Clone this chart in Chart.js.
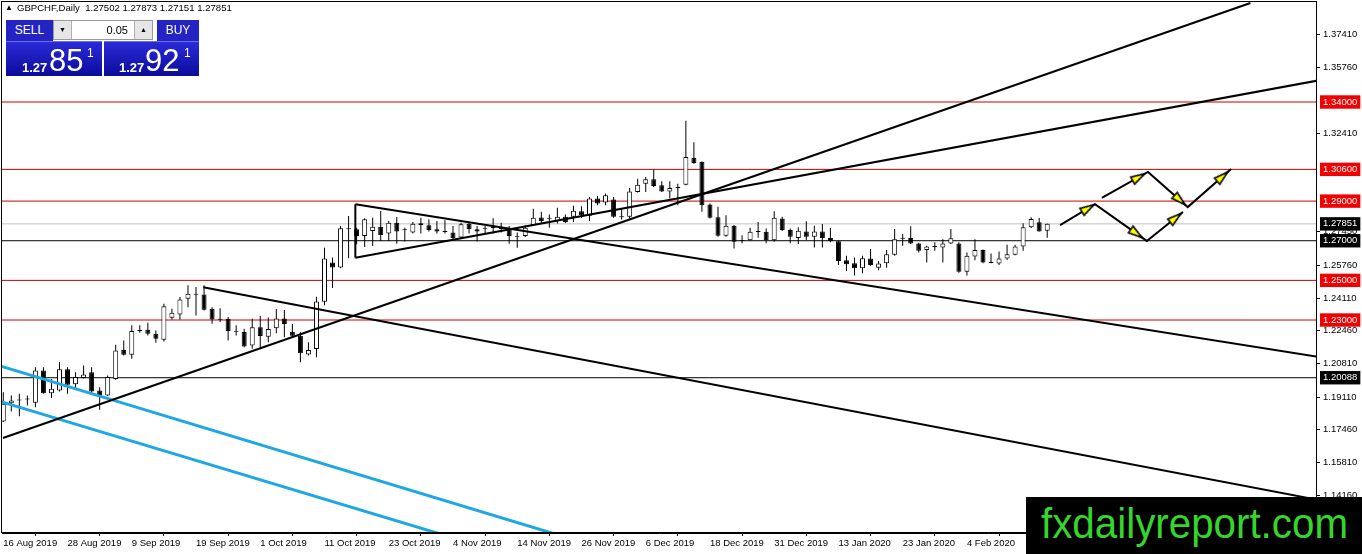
<!DOCTYPE html>
<html>
<head>
<meta charset="utf-8">
<script src="https://cdn.jsdelivr.net/npm/chart.js@4/dist/chart.umd.min.js"></script>
<style>
  html, body { margin: 0; padding: 0; background: #fff; }
  #wrap { position: relative; width: 1362px; height: 554px; overflow: hidden; font-family: "Liberation Sans", Arial, sans-serif; }
  #myChart { position: absolute; left: 0; top: 0; }
  #hdr { position: absolute; left: 5px; top: 2px; font-size: 9.6px; line-height: 12px; color: #000; white-space: nowrap; }
  #hdr .tri { font-size: 8px; vertical-align: 1px; margin-right: 4px; }
  .blue { position: absolute; color: #fff; background: linear-gradient(#2b2bd8, #0b0b9c); }
  .btn { font-size: 12px; text-align: center; line-height: 21px; height: 21px; background: #2424c4; }
  #spin { position: absolute; left: 53px; top: 20px; width: 98px; height: 18px; background: #fff; border: 1px solid #9a9a9a; font-size: 11px; }
  #spin .arr { position: absolute; top: 0; width: 17px; height: 18px; background: #e6e6e6; text-align: center; line-height: 18px; font-size: 7px; }
  .small { position: absolute; font-size: 13px; font-weight: bold; line-height: 13px; }
  .big { position: absolute; font-size: 31px; line-height: 30px; }
  .sup { position: absolute; font-size: 12px; line-height: 12px; }
  #wm { position: absolute; left: 1026px; top: 497px; width: 336px; height: 57px; background: #000; overflow: hidden; }
  #wm span { position: absolute; left: 15px; top: 3px; font-size: 42px; line-height: 48px; color: #35d62c; transform: scaleX(0.96); transform-origin: 0 0; white-space: nowrap; }
</style>
</head>
<body>
<div id="wrap">
  <canvas id="myChart" width="1362" height="554"></canvas>
  <div id="hdr"><span class="tri">&#9650;</span>GBPCHF,Daily&nbsp; 1.27502 1.27873 1.27151 1.27851</div>
  <div class="blue btn" style="left:6px;top:20px;width:47px;">SELL</div>
  <div id="spin">
    <div class="arr" style="left:0;border-right:1px solid #b0b0b0;">&#9660;</div>
    <div style="position:absolute;right:24px;top:0;line-height:18px;">0.05</div>
    <div class="arr" style="right:0;border-left:1px solid #b0b0b0;">&#9650;</div>
  </div>
  <div class="blue btn" style="left:157px;top:20px;width:42px;">BUY</div>
  <div class="blue" style="left:6px;top:41px;width:96px;height:34px;border-top:1px solid #6d6de6;">
    <span class="small" style="left:16px;top:19px;">1.27</span>
    <span class="big" style="left:43px;top:4px;">85</span>
    <span class="sup" style="left:81px;top:5px;">1</span>
  </div>
  <div class="blue" style="left:104px;top:41px;width:95px;height:34px;border-top:1px solid #6d6de6;">
    <span class="small" style="left:15px;top:19px;">1.27</span>
    <span class="big" style="left:41px;top:4px;">92</span>
    <span class="sup" style="left:80px;top:5px;">1</span>
  </div>
  <div id="wm"><span>fxdailyreport.com</span></div>
</div>
<script>
// GBPCHF daily candles, 16 Aug 2019 .. 18 Feb 2020 (bar index = position)
const openVals = [
  1.1788, 1.1880, 1.1894, 1.1899, 1.1882, 1.2045, 1.1931, 1.1944, 1.2051, 1.1976,
  1.2008, 1.2037, 1.1944, 1.1919, 1.2003, 1.2150, 1.2125, 1.2247, 1.2251, 1.2231,
  1.2200, 1.2311, 1.2328, 1.2407, 1.2431, 1.2429, 1.2357, 1.2305, 1.2306, 1.2244,
  1.2239, 1.2172, 1.2264, 1.2216, 1.2258, 1.2308, 1.2241, 1.2221, 1.2126, 1.2154,
  1.2392, 1.2590, 1.2565, 1.2761, 1.2758, 1.2724, 1.2749, 1.2771, 1.2736, 1.2791,
  1.2756, 1.2741, 1.2788, 1.2778, 1.2758, 1.2746, 1.2741, 1.2716, 1.2786, 1.2758,
  1.2764, 1.2768, 1.2763, 1.2763, 1.2721, 1.2724, 1.2779, 1.2817, 1.2814, 1.2800,
  1.2821, 1.2821, 1.2849, 1.2826, 1.2913, 1.2893, 1.2908, 1.2822, 1.2821, 1.2946,
  1.2988, 1.3010, 1.2980, 1.2949, 1.2970, 1.2983, 1.3117, 1.3097, 1.2883, 1.2819,
  1.2725, 1.2775, 1.2700, 1.2703, 1.2747, 1.2745, 1.2703, 1.2812, 1.2754, 1.2714,
  1.2747, 1.2720, 1.2747, 1.2714, 1.2697, 1.2602, 1.2586, 1.2561, 1.2610, 1.2564,
  1.2586, 1.2629, 1.2714, 1.2714, 1.2686, 1.2653, 1.2673, 1.2666, 1.2686, 1.2686,
  1.2544, 1.2620, 1.2653, 1.2592, 1.2585, 1.2610, 1.2629, 1.2671, 1.2768, 1.2793,
  1.27502
];
const highVals = [
  1.1936, 1.1919, 1.1928, 1.1919, 1.2062, 1.2062, 1.2003, 1.2088, 1.2062, 1.2037,
  1.2071, 1.2062, 1.1961, 1.2020, 1.2175, 1.2197, 1.2273, 1.2273, 1.2286, 1.2247,
  1.2382, 1.2357, 1.2416, 1.2475, 1.2466, 1.2475, 1.2365, 1.2360, 1.2315, 1.2273,
  1.2256, 1.2306, 1.2320, 1.2313, 1.2355, 1.2350, 1.2280, 1.2238, 1.2188, 1.2417,
  1.2665, 1.2615, 1.2774, 1.2825, 1.2766, 1.2813, 1.2816, 1.2850, 1.2799, 1.2820,
  1.2766, 1.2794, 1.2816, 1.2808, 1.2799, 1.2803, 1.2774, 1.2791, 1.2794, 1.2774,
  1.2774, 1.2813, 1.2791, 1.2774, 1.2741, 1.2778, 1.2862, 1.2846, 1.2832, 1.2866,
  1.2832, 1.2876, 1.2874, 1.2921, 1.2926, 1.2938, 1.2921, 1.2862, 1.2966, 1.3013,
  1.3021, 1.3060, 1.3000, 1.3000, 1.2988, 1.3306, 1.3197, 1.3100, 1.2888, 1.2871,
  1.2829, 1.2779, 1.2728, 1.2765, 1.2795, 1.2762, 1.2849, 1.2821, 1.2762, 1.2768,
  1.2798, 1.2776, 1.2785, 1.2764, 1.2700, 1.2624, 1.2615, 1.2624, 1.2658, 1.2598,
  1.2653, 1.2759, 1.2734, 1.2773, 1.2690, 1.2675, 1.2692, 1.2708, 1.2759, 1.2692,
  1.2641, 1.2708, 1.2656, 1.2636, 1.2646, 1.2680, 1.2680, 1.2788, 1.2819, 1.2815,
  1.27873
];
const lowVals = [
  1.1785, 1.1838, 1.1815, 1.1869, 1.1860, 1.1928, 1.1906, 1.1939, 1.1928, 1.1948,
  1.2005, 1.1928, 1.1847, 1.1916, 1.1998, 1.2121, 1.2104, 1.2236, 1.2222, 1.2185,
  1.2192, 1.2303, 1.2303, 1.2365, 1.2323, 1.2348, 1.2281, 1.2290, 1.2197, 1.2222,
  1.2163, 1.2155, 1.2152, 1.2188, 1.2233, 1.2213, 1.2210, 1.2087, 1.2121, 1.2112,
  1.2375, 1.2461, 1.2561, 1.2612, 1.2682, 1.2669, 1.2674, 1.2699, 1.2699, 1.2685,
  1.2696, 1.2737, 1.2736, 1.2746, 1.2736, 1.2736, 1.2702, 1.2711, 1.2736, 1.2696,
  1.2736, 1.2736, 1.2741, 1.2685, 1.2665, 1.2719, 1.2775, 1.2787, 1.2765, 1.2787,
  1.2790, 1.2795, 1.2816, 1.2799, 1.2879, 1.2879, 1.2816, 1.2807, 1.2812, 1.2943,
  1.2946, 1.2971, 1.2946, 1.2913, 1.2879, 1.2980, 1.3088, 1.2846, 1.2812, 1.2720,
  1.2720, 1.2661, 1.2687, 1.2700, 1.2715, 1.2687, 1.2695, 1.2749, 1.2687, 1.2683,
  1.2703, 1.2666, 1.2666, 1.2692, 1.2578, 1.2547, 1.2525, 1.2536, 1.2573, 1.2551,
  1.2564, 1.2624, 1.2675, 1.2683, 1.2641, 1.2590, 1.2649, 1.2590, 1.2683, 1.2539,
  1.2525, 1.2602, 1.2586, 1.2586, 1.2578, 1.2603, 1.2627, 1.2649, 1.2764, 1.2746,
  1.27151
];
const closeVals = [
  1.1877, 1.1894, 1.1895, 1.1900, 1.2045, 1.1931, 1.1953, 1.2051, 1.1973, 1.2012,
  1.2025, 1.1939, 1.1916, 1.2012, 1.2146, 1.2125, 1.2244, 1.2244, 1.2231, 1.2205,
  1.2370, 1.2337, 1.2404, 1.2433, 1.2428, 1.2352, 1.2303, 1.2301, 1.2244, 1.2241,
  1.2167, 1.2264, 1.2219, 1.2255, 1.2308, 1.2280, 1.2221, 1.2132, 1.2149, 1.2394,
  1.2610, 1.2565, 1.2763, 1.2758, 1.2724, 1.2808, 1.2771, 1.2729, 1.2791, 1.2746,
  1.2753, 1.2786, 1.2778, 1.2754, 1.2746, 1.2744, 1.2712, 1.2783, 1.2758, 1.2746,
  1.2761, 1.2764, 1.2759, 1.2724, 1.2717, 1.2766, 1.2816, 1.2799, 1.2811, 1.2821,
  1.2795, 1.2851, 1.2829, 1.2913, 1.2888, 1.2929, 1.2821, 1.2819, 1.2949, 1.2983,
  1.3010, 1.2976, 1.2949, 1.2966, 1.2966, 1.3122, 1.3092, 1.2879, 1.2816, 1.2725,
  1.2775, 1.2695, 1.2697, 1.2745, 1.2744, 1.2703, 1.2816, 1.2754, 1.2720, 1.2751,
  1.2720, 1.2747, 1.2714, 1.2697, 1.2598, 1.2581, 1.2561, 1.2612, 1.2578, 1.2585,
  1.2632, 1.2708, 1.2710, 1.2686, 1.2649, 1.2671, 1.2669, 1.2686, 1.2712, 1.2544,
  1.2624, 1.2653, 1.2590, 1.2588, 1.2610, 1.2632, 1.2671, 1.2768, 1.2810, 1.2747,
  1.27851
];

// time axis labels and the bar they sit on
const tickBars = [0, 8, 16, 24, 32, 40, 48, 56, 64, 72, 80, 88, 96, 104, 112, 120];
const tickLabels = [
  "16 Aug 2019", "28 Aug 2019", "9 Sep 2019", "19 Sep 2019", "1 Oct 2019", "11 Oct 2019",
  "23 Oct 2019", "4 Nov 2019", "14 Nov 2019", "26 Nov 2019", "6 Dec 2019", "18 Dec 2019",
  "31 Dec 2019", "13 Jan 2020", "23 Jan 2020", "4 Feb 2020"
];

// price axis
const priceTicks = [1.37410, 1.35760, 1.32410, 1.27450, 1.25760, 1.24110, 1.22460, 1.20810, 1.19110, 1.17460, 1.15810, 1.14160];
const redLevels = [1.34000, 1.30600, 1.29000, 1.25000, 1.23000];
const blackLevels = [1.20088, 1.27000];
const bidLevels = [1.27851];
const xMin = -0.16, xMax = 163.47;
const yMin = 1.12254, yMax = 1.39096;

// drawn objects: [bar, price] anchor points
const trendUp1 = [[-0.04, 1.17047], [155.3, 1.38995]];
const trendUp2 = [[43.84, 1.26144], [163.6, 1.35075]];
const trendDown1 = [[43.84, 1.28839], [163.6, 1.21149]];
const trendDown2 = [[24.9, 1.24651], [163.6, 1.13930]];
const triangleSide = [[43.84, 1.26144], [43.84, 1.28839]];
const channelTop = [[-0.3, 1.20670], [69.3, 1.12130]];
const channelLow = [[-0.3, 1.18880], [55.0, 1.12133]];
const arrowPathA = [[131.6, 1.2779], [135.95, 1.2885], [142.4, 1.2699], [146.9, 1.2845]];
const arrowPathB = [[136.8, 1.2916], [142.55, 1.3047], [147.5, 1.2870], [152.9, 1.3062]];

var myChart = null;

function isLevel(v) {
  return redLevels.concat(blackLevels, bidLevels).some((l) => Math.abs(l - v) < 1e-7);
}
function levelBox(v) {
  if (redLevels.some((l) => Math.abs(l - v) < 1e-7)) return "#f00000";
  if (isLevel(v)) return "#000000";
  return "rgba(0,0,0,0)";
}

function lineSet(points, color, width, order) {
  return {
    type: "line",
    data: points.map((p) => ({ x: p[0], y: p[1] })),
    borderColor: color,
    borderWidth: width,
    pointRadius: 0,
    tension: 0,
    fill: false,
    order: order,
  };
}

function arrowHead() {
  const c = document.createElement("canvas");
  c.width = 10;
  c.height = 16;
  const g = c.getContext("2d");
  g.beginPath();
  g.moveTo(5, 1);
  g.lineTo(9, 15);
  g.lineTo(1, 15);
  g.closePath();
  g.fillStyle = "#ffff00";
  g.fill();
  g.strokeStyle = "#000";
  g.lineWidth = 1.6;
  g.stroke();
  return c;
}

const framePlugin = {
  id: "frame",
  afterDraw(chart) {
    const a = chart.chartArea;
    const ctx = chart.ctx;
    ctx.save();
    ctx.strokeStyle = "#000";
    ctx.lineWidth = 1;
    ctx.strokeRect(Math.round(a.left) - 0.5, Math.round(a.top) + 0.5, Math.round(a.right - a.left) + 1, Math.round(a.bottom - a.top) - 1);
    ctx.restore();
  },
};

function drawChart() {
  if (myChart != null) {
    myChart.destroy();
  }
  const bars = openVals.map((v, i) => i);
  const wickData = bars.map((i) => ({ x: i, y: [lowVals[i], highVals[i]] }));
  const bodyData = bars.map((i) => ({ x: i, y: [openVals[i], closeVals[i]] }));
  const bodyFill = bars.map((i) => (closeVals[i] >= openVals[i] ? "#ffffff" : "#000000"));

  const datasets = [];
  // trend lines on top
  [trendUp1, trendUp2, trendDown1, trendDown2, triangleSide].forEach((t) => datasets.push(lineSet(t, "#000", 2, 0)));
  datasets.push(lineSet(channelTop, "#1ea7e1", 3, 0));
  datasets.push(lineSet(channelLow, "#1ea7e1", 3, 0));
  // arrows
  const segs = [];
  [arrowPathA, arrowPathB].forEach((path) => {
    datasets.push(lineSet(path, "#000", 2, 0));
    for (let k = 0; k < path.length - 1; k++) segs.push([path[k], path[k + 1]]);
  });
  const head = arrowHead();
  datasets.push({
    type: "line",
    showLine: false,
    data: segs.map((s) => ({ x: s[0][0] + 0.8 * (s[1][0] - s[0][0]), y: s[0][1] + 0.8 * (s[1][1] - s[0][1]) })),
    pointStyle: head,
    pointRadius: 7,
    pointRotation: (ctx) => {
      const s = segs[ctx.dataIndex];
      const xs = ctx.chart.scales.x;
      const ys = ctx.chart.scales.y;
      const dx = xs.getPixelForValue(s[1][0]) - xs.getPixelForValue(s[0][0]);
      const dy = ys.getPixelForValue(s[1][1]) - ys.getPixelForValue(s[0][1]);
      return (Math.atan2(dy, dx) * 180) / Math.PI + 90;
    },
    order: -1,
  });
  // candles
  datasets.push({
    type: "bar",
    data: bodyData,
    backgroundColor: bodyFill,
    borderColor: "#000",
    borderWidth: 1,
    borderSkipped: false,
    barThickness: 5,
    minBarLength: 1,
    inflateAmount: 0,
    grouped: false,
    order: 1,
  });
  datasets.push({
    type: "bar",
    data: wickData,
    backgroundColor: "#000",
    borderWidth: 0,
    barThickness: 1,
    inflateAmount: 0,
    grouped: false,
    order: 2,
  });
  // horizontal levels
  redLevels.forEach((v) => datasets.push(lineSet([[xMin - 1, v], [xMax + 1, v]], "#c80000", 1, 3)));
  blackLevels.forEach((v) => datasets.push(lineSet([[xMin - 1, v], [xMax + 1, v]], "#000", 1, 3)));
  bidLevels.forEach((v) => datasets.push(lineSet([[xMin - 1, v], [xMax + 1, v]], "#c0c0c0", 1, 3)));

  const axisFont = { family: "'Liberation Sans', Arial, sans-serif", size: 9.5 };
  const ctx = document.getElementById("myChart").getContext("2d");
  myChart = new Chart(ctx, {
    type: "bar",
    data: { datasets: datasets },
    plugins: [framePlugin],
    options: {
      responsive: false,
      animation: false,
      devicePixelRatio: 1,
      layout: { autoPadding: false, padding: { left: 2, top: 1, right: 0, bottom: 0 } },
      plugins: { legend: { display: false }, tooltip: { enabled: false } },
      scales: {
        x: {
          type: "linear",
          min: xMin,
          max: xMax,
          offset: false,
          border: { color: "#000" },
          grid: { drawOnChartArea: false, tickLength: 3, color: "#000" },
          afterBuildTicks: (s) => {
            s.ticks = tickBars.map((v) => ({ value: v }));
          },
          afterFit: (s) => {
            s.height = 21;
            s.paddingLeft = 0;
            s.paddingRight = 0;
          },
          ticks: {
            autoSkip: false,
            maxRotation: 0,
            align: "start",
            padding: 2,
            color: "#000",
            font: axisFont,
            callback: (v, i) => tickLabels[i],
          },
        },
        y: {
          type: "linear",
          position: "right",
          min: yMin,
          max: yMax,
          border: { color: "#000" },
          grid: {
            drawOnChartArea: false,
            tickLength: 4,
            color: (c) => (c.tick && isLevel(c.tick.value) ? "rgba(0,0,0,0)" : "#000"),
          },
          afterBuildTicks: (s) => {
            s.ticks = priceTicks.concat(redLevels, blackLevels, bidLevels).map((v) => ({ value: v }));
          },
          afterFit: (s) => {
            s.width = 46;
            s.paddingTop = 0;
            s.paddingBottom = 0;
          },
          ticks: {
            autoSkip: false,
            padding: 3,
            font: axisFont,
            color: (c) => (isLevel(c.tick.value) ? "#fff" : "#000"),
            showLabelBackdrop: true,
            backdropColor: (c) => levelBox(c.tick.value),
            backdropPadding: { left: 3, right: 3, top: 1, bottom: 1 },
            callback: (v) => v.toFixed(5),
          },
        },
      },
    },
  });
}

drawChart();
</script>
</body>
</html>
